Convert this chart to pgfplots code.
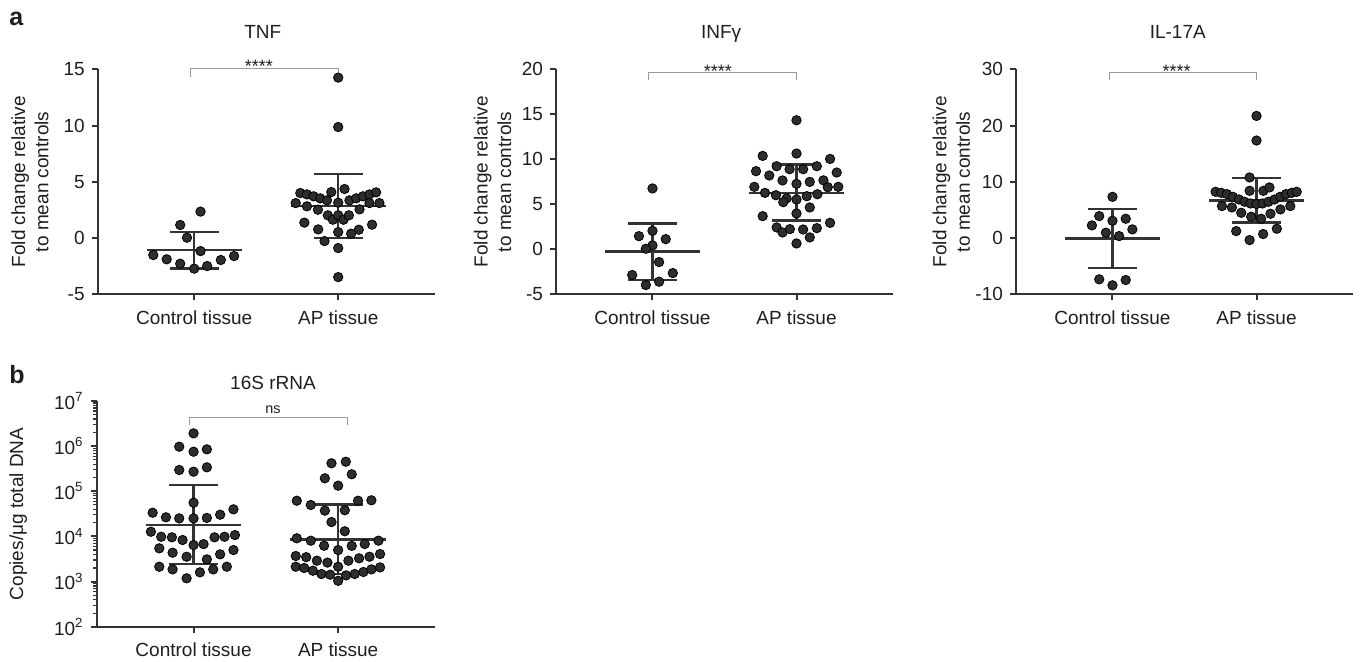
\documentclass[border=0pt]{standalone}
\usepackage{fontspec}
\setmainfont{Liberation Sans}
\usepackage{pgfplots}
\pgfplotsset{compat=1.18}
\definecolor{dotc}{HTML}{2D2D2D}
\definecolor{axc}{HTML}{333333}
\definecolor{brc}{HTML}{999999}
\definecolor{txtc}{HTML}{1E1E1E}
\tikzset{ttl/.style={anchor=base, font=\fontsize{9.5}{11}\selectfont, text=txtc, inner sep=0pt}}
\pgfplotsset{
  panel/.style={
    scale only axis, width=168.5pt, height=112.5pt,
    xmin=-0.67, xmax=1.67,
    axis x line=bottom, axis y line=left,
    axis line style={-, line width=1pt, axc},
    tick align=outside, major tick length=3pt, minor tick length=1.8pt,
    major tick style={line width=1pt, axc},
    minor tick style={line width=0.6pt, axc},
    xtick={0,1}, xticklabels={Control tissue, AP tissue},
    tick label style={font=\fontsize{9.5}{11}\selectfont, text=txtc},
    xticklabel style={yshift=-1.5pt},
    /pgf/number format/assume math mode=true,
    label style={font=\fontsize{9.5}{11.7}\selectfont, text=txtc},
    ylabel style={align=center, anchor=center},
    clip=false,
  },
  dots/.style={only marks, mark=*, mark size=2.35pt, mark options={fill=dotc, draw=none}},
  msd/.style={line width=1.2pt, axc, no marks},
  brk/.style={line width=0.5pt, brc, no marks},
}
\newcommand{\msdC}[3]{%
  \addplot[msd] coordinates {(-0.33,#1) (0.33,#1)};
  \addplot[msd] coordinates {(0,#2) (0,#3)};
  \addplot[msd] coordinates {(-0.17,#2) (0.17,#2)};
  \addplot[msd] coordinates {(-0.17,#3) (0.17,#3)};}
\newcommand{\msdA}[3]{%
  \addplot[msd] coordinates {(0.67,#1) (1.33,#1)};
  \addplot[msd] coordinates {(1,#2) (1,#3)};
  \addplot[msd] coordinates {(0.83,#2) (1.17,#2)};
  \addplot[msd] coordinates {(0.83,#3) (1.17,#3)};}
\begin{document}
\begin{tikzpicture}
\useasboundingbox (0,0) rectangle (681pt,330.5pt);
\node[anchor=base west, font=\bfseries\fontsize{12.5}{14}\selectfont, inner sep=0pt, text=txtc] at (4.5pt,318pt) {a};
\node[anchor=base west, font=\bfseries\fontsize{12.5}{14}\selectfont, inner sep=0pt, text=txtc] at (4.5pt,139pt) {b};

% ---------- TNF ----------
\begin{axis}[panel, at={(48.85pt,183.35pt)}, anchor=south west,
  ymin=-5, ymax=15, ytick={-5,0,5,10,15},
  ylabel={Fold change relative\\to mean controls},
  ylabel style={at={(axis description cs:-0.201,0.5)}}]
\addplot[dots] coordinates {(0.044,2.35) (-0.097,1.16) (-0.05,0.03) (0.044,-1.16) (-0.284,-1.51) (-0.191,-1.89) (-0.097,-2.28) (0,-2.72) (0.09,-2.49) (0.185,-1.95) (0.277,-1.6)};
\addplot[dots] coordinates {(1,14.26) (1,9.87) (0.737,4.0) (0.783,3.88) (0.829,3.71) (0.875,3.53) (0.922,3.35) (0.952,4.09) (1.044,4.36) (1,3.14) (1.078,3.35) (1.125,3.53) (1.171,3.71) (1.217,3.88) (1.263,4.06) (0.705,3.11) (1.286,3.11) (1.217,3.11) (0.783,2.82) (0.859,2.52) (1.148,2.55) (0.928,2.02) (0.963,1.63) (1,2.02) (1.037,1.63) (1.074,2.02) (0.765,1.37) (1.235,1.19) (0.861,0.77) (1,0.53) (1.143,0.74) (1.09,0.39) (0.905,-0.27) (1,-0.89) (1,-3.47)};
\msdC{-1.08}{-2.72}{0.53}
\msdA{2.87}{0.0}{5.72}
\addplot[brk] coordinates {(-0.025,14.36) (-0.025,15.1) (1,15.1) (1,14.36)};
\node[anchor=base, inner sep=0pt, font=\fontsize{9}{10}\selectfont, text=txtc, yshift=-2.4pt] at (axis cs:0.45,15.1) {****};
\node[ttl] at (rel axis cs:0.49,1.138) {TNF};
\end{axis}

% ---------- INF gamma ----------
\begin{axis}[panel, at={(278pt,183.35pt)}, anchor=south west,
  ymin=-5, ymax=20, ytick={-5,0,5,10,15,20},
  ylabel={Fold change relative\\to mean controls},
  ylabel style={at={(axis description cs:-0.188,0.5)}}]
\addplot[dots] coordinates {(0,6.76) (0,2.05) (-0.094,1.46) (0.092,1.13) (0,0.43) (-0.046,0.06) (0.046,-1.42) (-0.141,-2.86) (0.141,-2.64) (-0.046,-3.97) (0.046,-3.6)};
\addplot[dots] coordinates {(1,14.34) (0.765,10.38) (1,10.64) (1.233,10.04) (0.862,9.23) (0.952,8.9) (1.046,8.9) (1.141,9.23) (0.719,8.68) (1.279,8.53) (0.811,8.2) (0.903,7.65) (1,7.27) (1.092,7.49) (1.187,7.66) (0.707,6.94) (1.217,6.9) (1.29,6.94) (0.781,6.27) (0.857,6.01) (0.931,5.65) (0.908,5.24) (1,5.53) (1.071,5.9) (1.145,6.12) (1,3.98) (1.092,4.65) (0.765,3.68) (1.233,2.94) (0.862,2.43) (0.903,1.87) (0.954,2.24) (1.046,2.2) (1.141,2.35) (1.092,1.32) (1,0.65)};
\msdC{-0.24}{-3.42}{2.87}
\msdA{6.27}{3.2}{9.42}
\addplot[brk] coordinates {(-0.025,18.77) (-0.025,19.66) (1,19.66) (1,18.77)};
\node[anchor=base, inner sep=0pt, font=\fontsize{9}{10}\selectfont, text=txtc, yshift=-2.4pt] at (axis cs:0.454,19.66) {****};
\node[ttl] at (rel axis cs:0.49,1.138) {INFγ};
\end{axis}

% ---------- IL-17A ----------
\begin{axis}[panel, at={(508pt,183.35pt)}, anchor=south west,
  ymin=-10, ymax=30, ytick={-10,0,10,20,30},
  ylabel={Fold change relative\\to mean controls},
  ylabel style={at={(axis description cs:-0.192,0.5)}}]
\addplot[dots] coordinates {(0,7.33) (-0.092,3.9) (0.092,3.43) (0,3.07) (-0.143,2.25) (0.138,1.54) (-0.046,0.95) (0.046,0.35) (-0.092,-7.34) (0,-8.4) (0.092,-7.46)};
\addplot[dots] coordinates {(1,21.71) (1,17.34) (0.952,10.77) (0.952,8.4) (1.048,8.4) (1.09,9.0) (0.716,8.22) (0.755,8.04) (0.795,7.81) (0.836,7.33) (0.878,6.86) (0.917,6.45) (0.958,6.15) (1,6.04) (1.042,6.15) (1.083,6.45) (1.125,6.86) (1.164,7.33) (1.205,7.81) (1.245,8.04) (1.279,8.22) (0.76,5.68) (0.829,5.44) (0.894,4.5) (0.963,3.79) (1.032,3.43) (1.097,4.32) (1.166,5.09) (1.235,5.68) (0.859,1.24) (0.952,-0.36) (1.046,0.71) (1.141,1.66)};
\msdC{-0.06}{-5.3}{5.15}
\msdA{6.69}{2.78}{10.7}
\addplot[brk] coordinates {(-0.023,28.05) (-0.023,29.47) (1,29.47) (1,28.05)};
\node[anchor=base, inner sep=0pt, font=\fontsize{9}{10}\selectfont, text=txtc, yshift=-2.4pt] at (axis cs:0.445,29.47) {****};
\node[ttl] at (rel axis cs:0.48,1.138) {IL-17A};
\end{axis}

% ---------- 16S rRNA ----------
\begin{axis}[panel, at={(48.35pt,17.15pt)}, anchor=south west,
  width=169.15pt, height=112.85pt,
  ymode=log, ymin=1e2, ymax=1e7,
  ytick={1e2,1e3,1e4,1e5,1e6,1e7},
  yticklabels={10\textsuperscript{2},10\textsuperscript{3},10\textsuperscript{4},10\textsuperscript{5},10\textsuperscript{6},10\textsuperscript{7}},
  minor ytick={200,300,400,500,600,700,800,900,2000,3000,4000,5000,6000,7000,8000,9000,20000,30000,40000,50000,60000,70000,80000,90000,2e5,3e5,4e5,5e5,6e5,7e5,8e5,9e5,2e6,3e6,4e6,5e6,6e6,7e6,8e6,9e6},
  ylabel={Copies/μg total DNA},
  ylabel style={at={(axis description cs:-0.232,0.5)}}]
\addplot[dots] coordinates {(0,1.92e6) (-0.099,9.73e5) (0,7.53e5) (0.092,8.49e5) (-0.099,2.96e5) (0,2.72e5) (0.092,3.39e5) (0,5.58e4) (-0.283,3.35e4) (-0.191,2.65e4) (-0.099,2.51e4) (0,2.51e4) (0.092,2.57e4) (0.184,3.03e4) (0.276,3.98e4) (-0.295,1.27e4) (-0.224,9.84e3) (-0.15,9.55e3) (-0.076,8.32e3) (0,6.44e3) (0.069,6.76e3) (0.145,9.55e3) (0.214,9.84e3) (0.286,1.07e4) (-0.237,5.45e3) (-0.145,4.36e3) (-0.048,3.55e3) (0.092,3.10e3) (0.184,4.01e3) (0.276,4.99e3) (-0.237,2.13e3) (-0.145,1.86e3) (-0.048,1.18e3) (0.044,1.60e3) (0.136,1.86e3) (0.23,2.13e3)};
\addplot[dots] coordinates {(0.954,4.17e5) (1.053,4.52e5) (0.908,1.94e5) (1.094,2.38e5) (1,1.33e5) (0.714,6.18e4) (0.811,4.97e4) (1.138,6.18e4) (1.23,6.31e4) (0.908,3.72e4) (1.046,3.80e4) (0.954,2.08e4) (1.046,1.30e4) (0.714,9.08e3) (0.811,8.04e3) (0.903,6.22e3) (1,4.99e3) (1.094,6.17e3) (1.184,6.78e3) (1.279,8.04e3) (0.707,3.68e3) (0.779,3.47e3) (0.853,2.90e3) (0.926,2.63e3) (1,2.13e3) (1.071,2.90e3) (1.145,3.27e3) (1.217,3.55e3) (1.29,4.07e3) (0.707,2.13e3) (0.765,2.0e3) (0.825,1.74e3) (0.885,1.47e3) (0.945,1.42e3) (1.055,1.37e3) (1.115,1.47e3) (1.175,1.63e3) (1.23,1.86e3) (1.29,2.06e3) (1,1.04e3)};
\msdC{1.79e4}{2.44e3}{1.38e5}
\msdA{8.6e3}{1.45e3}{5.14e4}
\addplot[brk] coordinates {(-0.03,2.94e6) (-0.03,4.36e6) (1.065,4.36e6) (1.065,2.94e6)};
\node[anchor=base, inner sep=0pt, font=\fontsize{7.2}{9}\selectfont, text=txtc, yshift=2pt] at (axis cs:0.55,4.36e6) {ns};
\node[ttl] at (rel axis cs:0.521,1.049) {16S rRNA};
\end{axis}
\end{tikzpicture}
\end{document}
